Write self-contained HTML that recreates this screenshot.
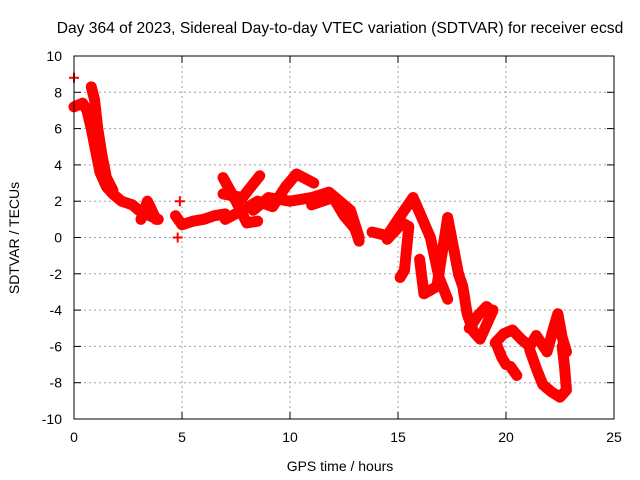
<!DOCTYPE html>
<html><head><meta charset="utf-8"><style>
body{margin:0;background:#fff}
svg{display:block;font-family:"Liberation Sans",sans-serif}
</style></head><body>
<svg id="chart" width="640" height="480" viewBox="0 0 640 480">
<text x="340" y="33" font-size="15.6" text-anchor="middle">Day 364 of 2023, Sidereal Day-to-day VTEC variation (SDTVAR) for receiver ecsd</text>
<g id="grid"></g>
<g id="marks"></g>
<rect x="74" y="56" width="540" height="363" fill="none" stroke="#000" stroke-width="1"/>
<g id="ticks"></g>
<text x="340" y="471" font-size="14" text-anchor="middle">GPS time / hours</text>
<text transform="translate(19,238) rotate(-90)" font-size="14" text-anchor="middle">SDTVAR / TECUs</text>
</svg>
<script>
const xTicks=[0,5,10,15,20,25];
const yTicks=[-10,-8,-6,-4,-2,0,2,4,6,8,10];
const track1=[[0,7.2],[0.4,7.4],[0.6,7.0],[0.8,6.0],[1.0,4.8],[1.2,3.6],[1.5,2.8],[1.8,2.4],[2.2,2.0],[2.7,1.8],[3.0,1.5],[3.5,1.2],[3.9,1.0]];
const track2=[[0.8,8.3],[0.95,7.6],[1.1,6.0],[1.3,4.5],[1.5,3.3],[1.8,2.6]];
const track3=[[3.1,1.0],[3.4,2.0],[3.8,1.0]];
const track4=[[4.7,1.2],[5.0,0.7],[5.5,0.9],[6.0,1.0],[6.5,1.2],[7.0,1.3]];
const track5=[[6.9,3.3],[7.5,2.0],[8.0,0.8],[8.5,0.9]];
const track6=[[6.9,2.4],[7.8,2.2],[8.6,3.4]];
const track7=[[7.0,1.0],[7.8,1.5],[8.5,2.0],[9.2,1.7],[9.8,2.8],[10.3,3.5],[11.1,3.0]];
const track8=[[8.3,1.5],[9.0,2.2],[10,2.0],[11,2.2],[11.8,2.5],[12.3,2.0],[12.8,1.5],[13.2,0]];
const track9=[[11,1.8],[12,2.2],[12.5,1.2],[13,0.5],[13.2,-0.2]];
const track10=[[13.8,0.3],[14.5,0.1],[15.0,1.0],[15.7,2.2],[16.5,0],[16.9,-2.2],[17.3,-3.4]];
const track11=[[14.5,-0.1],[15.2,0.8],[15.5,0.6],[15.3,-1.8],[15.1,-2.2]];
const track12=[[16.0,-1.2],[16.2,-3.1],[16.8,-2.7],[17.3,1.1],[17.8,-2.0]];
const track13=[[17.8,-2.0],[18.0,-2.7],[18.2,-4.2],[18.5,-5.2],[18.8,-5.6],[19.1,-4.8],[19.4,-4.0]];
const track14=[[18.3,-5.0],[18.7,-4.3],[19.1,-3.8],[19.3,-4.0]];
const track15=[[19.5,-5.8],[19.9,-5.3],[20.3,-5.1],[20.7,-5.6],[21.1,-6.0],[21.4,-5.4],[21.9,-6.3],[22.2,-5.0],[22.4,-4.2],[22.6,-5.5],[22.8,-6.3]];
const track16=[[19.6,-6.0],[19.8,-6.6],[20.0,-7.0]];
const track17=[[20.2,-7.1],[20.5,-7.6]];
const track18=[[21.1,-6.2],[21.4,-7.2],[21.7,-8.1],[22.1,-8.5],[22.5,-8.8],[22.8,-8.4],[22.7,-7.0],[22.6,-6.0]];
const singles=[[0,8.8],[4.9,2.0],[4.8,0.0]];
const tracks=[track1,track2,track3,track4,track5,track6,track7,track8,track9,track10,track11,track12,track13,track14,track15,track16,track17,track18];

const NS="http://www.w3.org/2000/svg";
const X=v=>74+v/25*540, Y=v=>237.5-v/20*363;
const grid=document.getElementById('grid'),ticks=document.getElementById('ticks'),marks=document.getElementById('marks');
function mk(tag,attrs,parent){const e=document.createElementNS(NS,tag);for(const k in attrs)e.setAttribute(k,attrs[k]);parent.appendChild(e);return e;}
xTicks.forEach(t=>{
  if(t>0&&t<25){const g=mk('line',{x1:X(t),x2:X(t),y1:56,y2:419,stroke:'#a0a0a0','stroke-dasharray':'2,3'},grid);
  
  }
  mk('line',{x1:X(t),x2:X(t),y1:419,y2:412,stroke:'#000'},ticks);
  mk('line',{x1:X(t),x2:X(t),y1:56,y2:63,stroke:'#000'},ticks);
  const l=mk('text',{x:X(t),y:442,'font-size':14,'text-anchor':'middle'},ticks);l.textContent=t;
  
  
});
yTicks.forEach(t=>{
  if(t>-10&&t<10){const g=mk('line',{x1:74,x2:614,y1:Y(t),y2:Y(t),stroke:'#a0a0a0','stroke-dasharray':'2,3'},grid);
  
  }
  mk('line',{x1:74,x2:81,y1:Y(t),y2:Y(t),stroke:'#000'},ticks);
  mk('line',{x1:614,x2:607,y1:Y(t),y2:Y(t),stroke:'#000'},ticks);
  const l=mk('text',{x:62,y:Y(t)+5,'font-size':14,'text-anchor':'end'},ticks);l.textContent=t;
  
  
});
function plus(x,y){
  const p=mk('path',{d:`M${x-5},${y}h10M${x},${y-5}v10`,stroke:'#f00','stroke-width':2},marks);
  
  
}
tracks.forEach(tr=>{
  const pl=mk('polyline',{points:tr.map(p=>X(p[0])+','+Y(p[1])).join(' '),fill:'none',stroke:'#f00','stroke-width':11,'stroke-linejoin':'round','stroke-linecap':'round'},marks);
  
  
  tr.forEach(p=>plus(X(p[0]),Y(p[1])));
});
singles.forEach(p=>plus(X(p[0]),Y(p[1])));
</script>
</body></html>
